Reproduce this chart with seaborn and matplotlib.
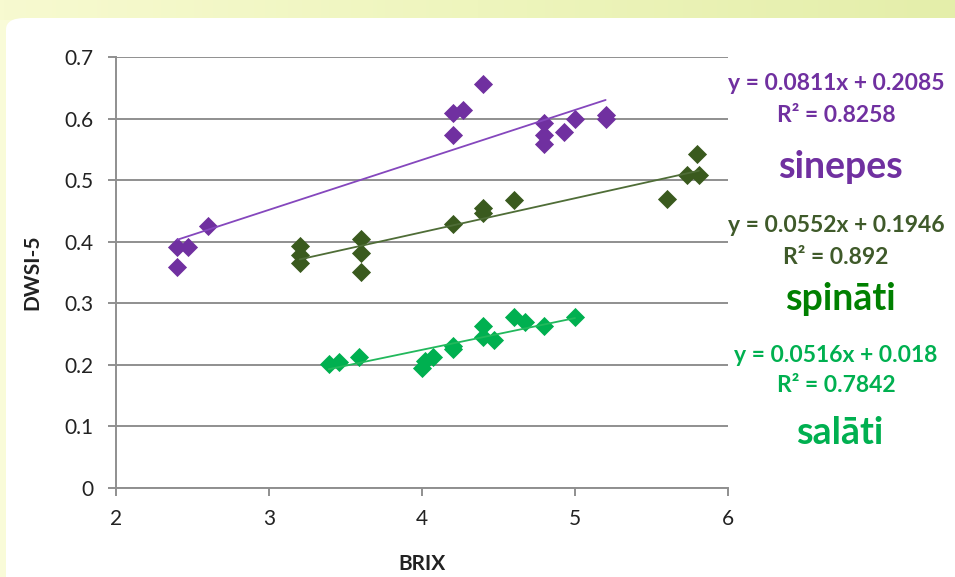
import numpy as np
import pandas as pd
import matplotlib
matplotlib.use("Agg")
import matplotlib.pyplot as plt
from matplotlib.patches import FancyBboxPatch
from matplotlib.colors import LinearSegmentedColormap
import seaborn as sns

# BRIX vs DWSI-5 measurements
sinepes_brix = [2.4, 2.4, 2.47, 2.6, 4.2, 4.2, 4.27, 4.4, 4.8, 4.8, 4.8, 4.93, 5.0, 5.2, 5.2]
sinepes_dwsi = [0.392, 0.359, 0.392, 0.426, 0.609, 0.573, 0.614, 0.656, 0.593, 0.573, 0.558, 0.578, 0.600, 0.600, 0.605]

spinati_brix = [3.2, 3.2, 3.2, 3.6, 3.6, 3.6, 4.2, 4.4, 4.4, 4.6, 5.6, 5.73, 5.81, 5.8]
spinati_dwsi = [0.393, 0.378, 0.365, 0.404, 0.381, 0.351, 0.428, 0.455, 0.447, 0.468, 0.469, 0.508, 0.508, 0.542]

salati_brix = [3.39, 3.46, 3.59, 4.0, 4.02, 4.07, 4.2, 4.2, 4.4, 4.4, 4.47, 4.6, 4.67, 4.8, 5.0]
salati_dwsi = [0.201, 0.205, 0.213, 0.195, 0.206, 0.213, 0.225, 0.230, 0.263, 0.245, 0.241, 0.277, 0.270, 0.263, 0.277]

# Linear trendlines (slope, intercept, R²)
sinepes_fit = (0.0811, 0.2085, "0.8258")
spinati_fit = (0.0552, 0.1946, "0.892")
salati_fit = (0.0516, 0.018, "0.7842")

x_ticks = [2, 3, 4, 5, 6]
y_ticks = [0, 0.1, 0.2, 0.3, 0.4, 0.5, 0.6, 0.7]

sns.set_theme(style="white")
plt.rcParams["font.family"] = ["Lato", "DejaVu Sans"]

W, H = 955, 577
fig = plt.figure(figsize=(W / 100, H / 100), dpi=100)
fig.patch.set_facecolor("#f9fbd8")

# top gradient band
band = fig.add_axes([0, 1 - 20 / H, 1, 20 / H], zorder=-3)
grad = np.linspace(0, 1, 256)[None, :]
band_cmap = LinearSegmentedColormap.from_list("band", ["#f7fad0", "#eef5bd", "#e4eeaa"])
band.imshow(grad, aspect="auto", cmap=band_cmap, extent=[0, 1, 0, 1])
band.set_axis_off()

# white content panel
panel = FancyBboxPatch((6 / W, -0.05), 1.2, 1 - 18 / H + 0.05,
                       boxstyle="round,pad=0,rounding_size=0.02",
                       transform=fig.transFigure, facecolor="white",
                       edgecolor="none", zorder=-2)
fig.patches.append(panel)

ax = fig.add_axes([116 / W, 1 - 488 / H, (728 - 116) / W, (488 - 57) / H])
ax.set_facecolor("none")

series = [
    (sinepes_brix, sinepes_dwsi, sinepes_fit, "#7030a0", "#8547bd"),
    (spinati_brix, spinati_dwsi, spinati_fit, "#3a5a1e", "#4f6d37"),
    (salati_brix, salati_dwsi, salati_fit, "#00b050", "#22b85c"),
]

for bx, dw, (k, b, _), col, lcol in series:
    df = pd.DataFrame({"BRIX": bx, "DWSI-5": dw})
    sns.scatterplot(data=df, x="BRIX", y="DWSI-5", marker="D", s=95,
                    color=col, linewidth=0, ax=ax, zorder=3)
    xs = np.array([min(bx), max(bx)])
    line = pd.DataFrame({"BRIX": xs, "DWSI-5": k * xs + b})
    sns.lineplot(data=line, x="BRIX", y="DWSI-5", color=lcol, linewidth=1.3,
                 ax=ax, zorder=4)

ax.set_xlim(2, 6)
ax.set_ylim(0, 0.7)
ax.set_xticks(x_ticks)
ax.set_yticks(y_ticks)
ax.set_xticklabels([str(t) for t in x_ticks])
ax.set_yticklabels(["0" if t == 0 else f"{t:.1f}" for t in y_ticks])
ax.yaxis.grid(True, color="#8f8f8f", linewidth=1.4)
ax.xaxis.grid(False)
ax.set_axisbelow(True)
for s in ["top", "right"]:
    ax.spines[s].set_visible(False)
for s in ["left", "bottom"]:
    ax.spines[s].set_color("#8f8f8f")
    ax.spines[s].set_linewidth(1.4)
ax.tick_params(axis="both", which="major", length=6, width=1.4, color="#8f8f8f",
               labelsize=15, labelcolor="#222222", direction="out",
               bottom=True, left=True)
ax.tick_params(axis="x", pad=9)
ax.tick_params(axis="y", pad=10)
ax.set_xlabel("BRIX", fontsize=15, fontweight="bold", color="#222222", labelpad=18)
ax.set_ylabel("DWSI-5", fontsize=15, fontweight="bold", color="#222222", labelpad=16)

# trendline equations and crop names
def px(x, y):
    return x / W, 1 - y / H

labels = [
    (sinepes_fit, "#7030a0", "#7030a0", "sinepes", 84, 116, 167),
    (spinati_fit, "#3f5a2a", "#008000", "spināti", 225, 257, 299),
    (salati_fit, "#00b050", "#00b050", "salāti", 356, 386, 433),
]
for (k, b, r2), eq_col, name_col, name, y_eq, y_r2, y_name in labels:
    b_txt = f"{b:.4f}".rstrip("0")
    fig.text(*px(836, y_eq), f"y = {k:.4f}x + {b_txt}", color=eq_col,
             fontsize=16.5, fontweight="bold", ha="center", va="center")
    fig.text(*px(836, y_r2), f"R² = {r2}", color=eq_col,
             fontsize=16.5, fontweight="bold", ha="center", va="center")
    fig.text(*px(840, y_name), name, color=name_col,
             fontsize=27, fontweight="bold", ha="center", va="center")

fig.savefig("out.png", dpi=100, facecolor=fig.get_facecolor())
